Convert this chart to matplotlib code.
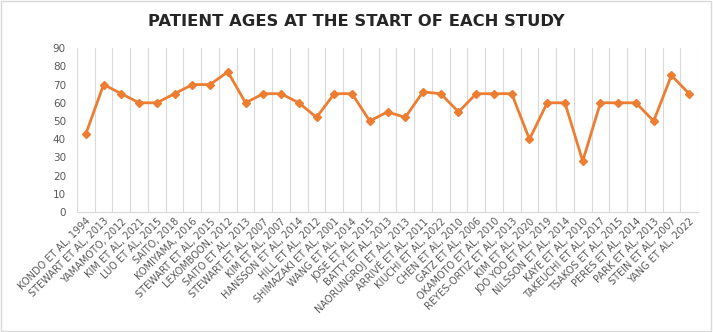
import numpy as np
import matplotlib.pyplot as plt
from matplotlib.patches import Rectangle

# ---- data ----
studies = ['KONDO ET AL, 1994', 'STEWART ET AL, 2013', 'YAMAMOTO, 2012', 'KIM ET AL, 2021',
           'LUO ET AL, 2015', 'SAITO, 2018', 'KOMIYAMA, 2016', 'STEWART ET AL, 2015',
           'LEXOMBOON, 2012', 'SAITO ET AL, 2013', 'STEWART ET AL, 2007', 'KIM ET AL, 2007',
           'HANSSON ET AL, 2014', 'HILL ET AL, 2012', 'SHIMAZAKI ET AL, 2001', 'WANG ET AL, 2014',
           'JOSE ET AL, 2015', 'BATTY ET AL, 2013', 'NAORUNGROJ ET AL, 2013', 'ARRIVÉ ET AL, 2011',
           'KIUCHI ET AL, 2022', 'CHEN ET AL, 2010', 'GATZ ET AL, 2006', 'OKAMOTO ET AL, 2010',
           'REYES-ORTIZ ET AL, 2013', 'KIM ET AL, 2020', 'JOO YOO ET AL, 2019', 'NILSSON ET AL, 2014',
           'KAYE ET AL, 2010', 'TAKEUCHI ET AL, 2017', 'TSAKOS ET AL, 2015', 'PERES ET AL, 2014',
           'PARK ET AL, 2013', 'STEIN ET AL, 2007', 'YANG ET AL, 2022']
ages = [43, 70, 65, 60, 60, 65, 70, 70, 77, 60, 65, 65, 60, 52, 65, 65, 50, 55, 52, 66,
        65, 55, 65, 65, 65, 40, 60, 60, 28, 60, 60, 60, 50, 75, 65]
yticks = list(range(0, 100, 10))

orange = '#ED7D31'
grey = '#595959'
grid = '#D9D9D9'

fig = plt.figure(figsize=(7.13, 3.32), dpi=100)
ax = fig.add_axes([0.108, 0.361, 0.871, 0.494])

x = np.arange(len(studies))
ax.plot(x, ages, color=orange, lw=2, marker='D', ms=4.5, mec=orange, mfc=orange)

ax.set_xlim(-0.5, len(studies) - 0.5)
ax.set_ylim(0, 90)
ax.set_yticks(yticks)
ax.set_xticks(x)
ax.set_xticklabels(studies, rotation=45, ha='right', rotation_mode='anchor',
                   fontsize=7, color=grey)
ax.tick_params(axis='y', labelsize=7.5, labelcolor=grey, length=0, pad=8)
ax.tick_params(axis='x', length=0, pad=3)

# vertical gridlines between categories
for b in np.arange(-0.5, len(studies), 1.0):
    ax.axvline(b, color=grid, lw=0.8, zorder=0)

for s in ['top', 'right', 'left']:
    ax.spines[s].set_visible(False)
ax.spines['bottom'].set_color(grid)

fig.text(0.5, 0.935, 'PATIENT AGES AT THE START OF EACH STUDY', ha='center', va='center',
         fontsize=11.8, fontweight='bold', color='#262626')

# chart border
fig.patches.append(Rectangle((0.002, 0.004), 0.995, 0.992, transform=fig.transFigure,
                             fill=False, edgecolor='#D9D9D9', lw=1))

fig.savefig('out.png', dpi=100)
